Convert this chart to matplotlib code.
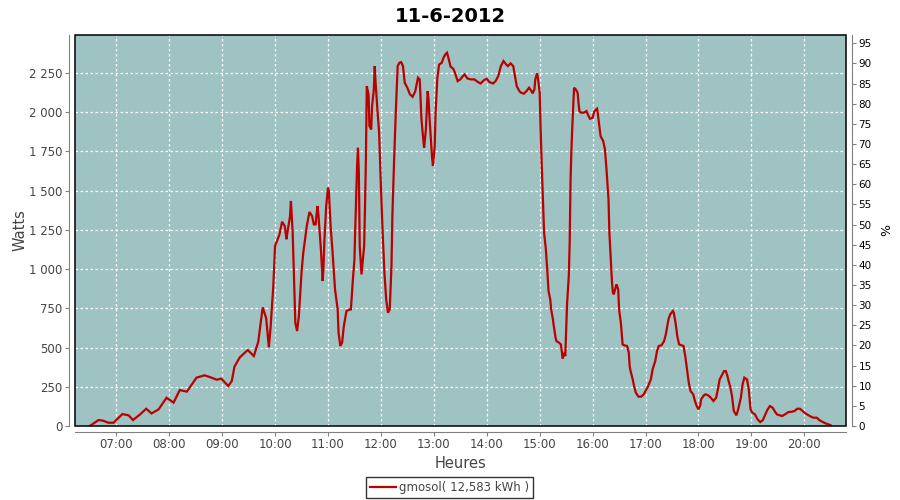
import numpy as np
import matplotlib
matplotlib.use("Agg")
import matplotlib.pyplot as plt
from matplotlib.ticker import FuncFormatter, MultipleLocator, FixedLocator
from matplotlib.patches import Rectangle

# data (time of day, watts)
times = ["06:30", "06:40", "06:45", "06:51", "06:57", "07:00", "07:07", "07:14", "07:19", "07:27",
         "07:34", "07:40", "07:48", "07:57", "08:05", "08:12", "08:20", "08:31", "08:40", "08:46",
         "08:54", "08:59", "09:07", "09:11", "09:14", "09:20", "09:29", "09:36", "09:41", "09:46",
         "09:50", "09:53", "09:55", "09:58", "10:00", "10:03", "10:05", "10:08", "10:11", "10:13",
         "10:14", "10:17", "10:18", "10:20", "10:21", "10:23", "10:25", "10:27", "10:30", "10:32",
         "10:34", "10:36", "10:39", "10:42", "10:44", "10:46", "10:48", "10:49", "10:52", "10:54",
         "10:55", "10:56", "10:58", "11:00", "11:01", "11:03", "11:05", "11:08", "11:11", "11:12",
         "11:14", "11:16", "11:18", "11:21", "11:25", "11:26", "11:28", "11:30", "11:31", "11:33",
         "11:34", "11:35", "11:36", "11:38", "11:41", "11:42", "11:43", "11:44", "11:46", "11:47",
         "11:49", "11:50", "11:52", "11:53", "11:54", "11:56", "11:58", "12:00", "12:02", "12:04",
         "12:06", "12:08", "12:10", "12:12", "12:13", "12:15", "12:17", "12:19", "12:21", "12:23",
         "12:25", "12:27", "12:30", "12:33", "12:36", "12:39", "12:42", "12:44", "12:45", "12:46",
         "12:48", "12:49", "12:51", "12:53", "12:54", "12:55", "12:57", "12:58", "12:59", "13:01",
         "13:02", "13:04", "13:06", "13:09", "13:11", "13:13", "13:15", "13:17", "13:19", "13:22",
         "13:24", "13:27", "13:30", "13:33", "13:35", "13:38", "13:42", "13:46", "13:50", "13:53",
         "13:57", "14:00", "14:03", "14:07", "14:10", "14:13", "14:16", "14:19", "14:22", "14:24",
         "14:27", "14:30", "14:32", "14:34", "14:37", "14:39", "14:42", "14:45", "14:48", "14:50",
         "14:52", "14:54", "14:55", "14:57", "14:58", "15:00", "15:01", "15:02", "15:03", "15:04",
         "15:05", "15:07", "15:08", "15:09", "15:10", "15:12", "15:13", "15:15", "15:16", "15:18",
         "15:19", "15:22", "15:24", "15:25", "15:26", "15:28", "15:29", "15:30", "15:31", "15:33",
         "15:34", "15:35", "15:36", "15:37", "15:38", "15:39", "15:41", "15:43", "15:44", "15:45",
         "15:47", "15:50", "15:53", "15:55", "15:57", "16:00", "16:02", "16:05", "16:06", "16:08",
         "16:09", "16:12", "16:14", "16:16", "16:18", "16:19", "16:20", "16:21", "16:22", "16:23",
         "16:24", "16:26", "16:27", "16:29", "16:30", "16:32", "16:34", "16:36", "16:39", "16:41",
         "16:42", "16:43", "16:45", "16:47", "16:49", "16:52", "16:55", "16:58", "17:00", "17:03",
         "17:06", "17:08", "17:11", "17:13", "17:15", "17:18", "17:21", "17:23", "17:26", "17:28",
         "17:31", "17:32", "17:34", "17:36", "17:38", "17:41", "17:43", "17:45", "17:47", "17:49",
         "17:51", "17:54", "17:56", "17:58", "18:00", "18:02", "18:03", "18:06", "18:08", "18:11",
         "18:14", "18:17", "18:20", "18:22", "18:24", "18:27", "18:29", "18:31", "18:33", "18:34",
         "18:36", "18:38", "18:40", "18:43", "18:45", "18:48", "18:50", "18:52", "18:55", "18:57",
         "18:59", "19:01", "19:04", "19:07", "19:10", "19:13", "19:15", "19:18", "19:21", "19:24",
         "19:27", "19:29", "19:32", "19:35", "19:38", "19:42", "19:46", "19:49", "19:52", "19:55",
         "19:58", "20:01", "20:03", "20:06", "20:10", "20:14", "20:17", "20:21", "20:24", "20:27",
         "20:30"]
watts = [0, 38, 34, 21, 21, 38, 76, 68, 38, 74,
         110, 80, 106, 180, 149, 229, 219, 308, 323, 312,
         295, 302, 255, 287, 378, 437, 484, 446, 537, 756,
         686, 501, 633, 888, 1147, 1190, 1221, 1302, 1274, 1190,
         1232, 1338, 1434, 1232, 1040, 658, 605, 700, 977, 1104,
         1189, 1274, 1364, 1338, 1285, 1285, 1402, 1360, 1126, 924,
         1020, 1189, 1402, 1519, 1497, 1274, 1126, 871, 743, 595,
         510, 531, 637, 733, 743, 743, 913, 1062, 1274, 1657,
         1773, 1614, 1147, 966, 1147, 1402, 1699, 2166, 2113, 1912,
         1890, 2039, 2145, 2294, 2188, 2018, 1869, 1529, 1232, 977,
         807, 722, 743, 1020, 1338, 1699, 2018, 2294, 2315, 2319,
         2294, 2188, 2156, 2113, 2098, 2134, 2220, 2209, 2082, 1954,
         1827, 1773, 1890, 2134, 2082, 1975, 1805, 1710, 1657, 1784,
         1997, 2220, 2304, 2315, 2347, 2368, 2379, 2336, 2290, 2277,
         2251, 2198, 2209, 2230, 2241, 2215, 2209, 2209, 2192, 2183,
         2205, 2213, 2192, 2183, 2198, 2230, 2294, 2326, 2304, 2294,
         2311, 2294, 2230, 2166, 2134, 2124, 2118, 2134, 2156, 2141,
         2120, 2145, 2209, 2247, 2220, 2124, 1901, 1720, 1550, 1381,
         1232, 1126, 1041, 956, 860, 807, 743, 680, 637, 563,
         541, 531, 520, 478, 429, 467, 446, 616, 775, 956,
         1168, 1572, 1763, 1912, 2039, 2156, 2145, 2124, 2060, 2007,
         1997, 1997, 2007, 1980, 1958, 1965, 2007, 2022, 1986, 1890,
         1848, 1816, 1763, 1614, 1444, 1232, 1126, 1020, 913, 850,
         839, 881, 903, 871, 743, 658, 520, 514, 510, 467,
         382, 350, 308, 255, 212, 187, 187, 202, 223, 255,
         297, 361, 414, 478, 510, 514, 541, 584, 680, 712,
         733, 722, 658, 573, 520, 514, 510, 446, 361, 276,
         223, 202, 159, 127, 106, 132, 170, 195, 202, 195,
         180, 159, 180, 234, 297, 329, 350, 350, 315, 290,
         250, 191, 96, 68, 106, 180, 265, 308, 297, 234,
         106, 85, 74, 42, 25, 38, 64, 102, 127, 117,
         89, 74, 68, 64, 74, 89, 91, 96, 110, 110,
         96, 81, 74, 64, 53, 53, 38, 25, 17, 11,
         4]

hour_ticks = list(range(7, 21))
hour_labels = ["%02d:00" % h for h in hour_ticks]
title = "11-6-2012"
legend_label = "gmosol( 12,583 kWh )"


def to_hours(t):
    h, m = t.split(":")
    return int(h) + int(m) / 60.0


x = np.array([to_hours(t) for t in times])
y = np.array(watts)

bg = "#9fc3c2"
grey = "#808080"
txt = "#444444"

fig = plt.figure(figsize=(9, 5), dpi=100)
ax = fig.add_axes([75 / 900, 74 / 500, 771 / 900, 391 / 500])
ax.set_facecolor(bg)

ax.plot(x, y, color="#bb0000", lw=1.6, solid_joinstyle="miter")

ax.set_xlim(6.2208, 20.787)
ax.set_ylim(0, 2492)

ax.yaxis.set_major_locator(MultipleLocator(250))
ax.yaxis.set_major_formatter(FuncFormatter(lambda v, p: "{:,}".format(int(v)).replace(",", " ")))
ax.xaxis.set_major_locator(FixedLocator(hour_ticks))
ax.set_xticklabels(hour_labels)

ax.grid(True, color="white", lw=0.9, linestyle=(0, (2, 2)))
ax.set_axisbelow(True)

for side in ["left", "bottom"]:
    ax.spines[side].set_position(("outward", 4))
    ax.spines[side].set_color(grey)
for side in ["top", "right"]:
    ax.spines[side].set_visible(False)
ax.tick_params(axis="both", colors=grey, labelcolor=txt, labelsize=8.5, length=3, width=0.8, pad=2)

# black plot outline
ax.add_patch(Rectangle((0, 0), 1, 1, transform=ax.transAxes, fill=False,
                       edgecolor="black", lw=1.1, clip_on=False, zorder=5))

ax.set_xlabel("Heures", fontsize=10.5, color=txt, labelpad=3)
ax.set_ylabel("Watts", fontsize=10.5, color=txt, labelpad=1)

# right percent axis
ax2 = ax.twinx()
ax2.set_ylim(0, 97.07)
ax2.yaxis.set_major_locator(MultipleLocator(5))
for side in ["left", "bottom", "top"]:
    ax2.spines[side].set_visible(False)
ax2.spines["right"].set_position(("outward", 4))
ax2.spines["right"].set_color(grey)
ax2.tick_params(axis="y", colors=grey, labelcolor="black", labelsize=7.5, length=3, width=0.8, pad=2)
ax2.set_ylabel("%", fontsize=9, color="black", labelpad=6)

fig.suptitle(title, fontsize=14, fontweight="bold", y=0.985)

leg = fig.legend([ax.lines[0]], [legend_label], loc="center", bbox_to_anchor=(0.4995, 0.025),
                 fontsize=8.5, frameon=True, fancybox=False, handlelength=2.2,
                 borderpad=0.3, handletextpad=0.3, borderaxespad=0)
leg.get_frame().set_edgecolor("black")
leg.get_frame().set_linewidth(1.0)
for t in leg.get_texts():
    t.set_color(txt)

fig.savefig("out.png", dpi=100)
